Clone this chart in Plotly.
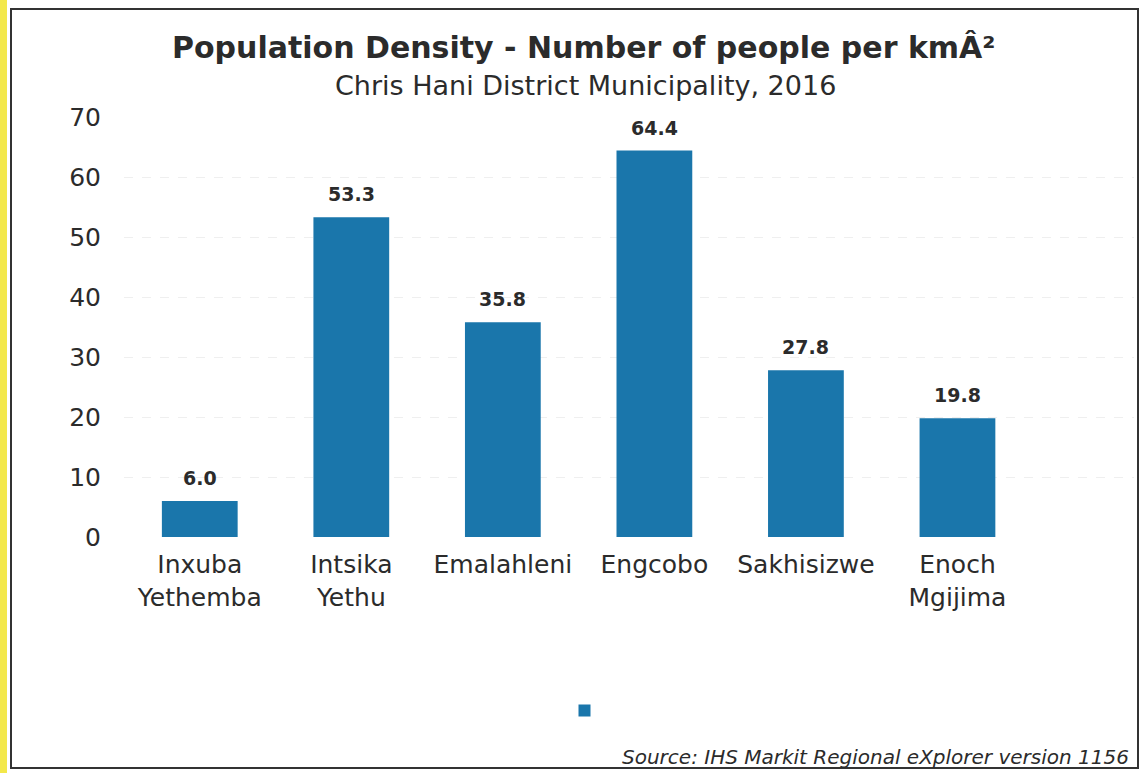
import plotly.graph_objects as go

categories = ["Inxuba<br>Yethemba", "Intsika<br>Yethu", "Emalahleni", "Engcobo", "Sakhisizwe", "Enoch<br>Mgijima"]
values = [6.0, 53.3, 35.8, 64.4, 27.8, 19.8]
y_ticks = [0, 10, 20, 30, 40, 50, 60, 70]

BAR = "#1a76ab"
FONT = "DejaVu Sans"
TXT = "#2b2b2b"

W, H = 1139, 773
L, R, T, B = 124, 5, 117, 236
pw, ph = W - L - R, H - T - B

def px(x):
    return (x - L) / pw

def py(y):
    return (H - B - y) / ph

fig = go.Figure()
fig.add_trace(go.Bar(
    x=list(range(len(categories))), y=values, name="", width=0.5,
    marker=dict(color=BAR, line=dict(width=0)), showlegend=True,
))
for i, v in enumerate(values):
    fig.add_annotation(x=i, y=v, text=f"<b>{v:.1f}</b>", showarrow=False,
                       yanchor="bottom", yshift=10,
                       font=dict(family=FONT, size=19, color=TXT))

fig.update_layout(
    width=W, height=H,
    margin=dict(l=L, r=R, t=T, b=B, autoexpand=False),
    paper_bgcolor="white", plot_bgcolor="white",
    font=dict(family=FONT, color=TXT),
    showlegend=True,
    legend=dict(orientation="h", x=px(587), y=py(711), xanchor="center", yanchor="middle",
                font=dict(size=14), itemwidth=30, bgcolor="rgba(0,0,0,0)"),
    bargap=0.5,
)
fig.update_xaxes(
    tickmode="array", tickvals=list(range(len(categories))), ticktext=categories,
    range=[-0.5, 6.165], showgrid=False, zeroline=False, showline=False, ticks="",
    tickfont=dict(family=FONT, size=25, color=TXT), ticklabelstandoff=10,
)
fig.update_yaxes(
    range=[0, 70], tickvals=y_ticks, showgrid=True, gridcolor="#efefef", griddash="dash",
    gridwidth=1, zeroline=False, showline=False, ticks="",
    tickfont=dict(family=FONT, size=25, color=TXT), ticklabelstandoff=22,
)

fig.add_annotation(xref="paper", yref="paper", x=px(583), y=py(48), xanchor="center", yanchor="middle",
                   text="<b>Population Density - Number of people per kmÂ²</b>", showarrow=False,
                   font=dict(family=FONT, size=30, color=TXT))
fig.add_annotation(xref="paper", yref="paper", x=px(585), y=py(85), xanchor="center", yanchor="middle",
                   text="Chris Hani District Municipality, 2016", showarrow=False,
                   font=dict(family=FONT, size=27, color=TXT))
fig.add_annotation(xref="paper", yref="paper", x=px(1131), y=py(757), xanchor="right", yanchor="middle",
                   text="<i>Source: IHS Markit Regional eXplorer version 1156</i>", showarrow=False,
                   font=dict(family=FONT, size=20, color=TXT))

# yellow strip and frame
fig.add_shape(type="rect", xref="paper", yref="paper", x0=px(0), x1=px(7), y0=py(H), y1=py(0),
              fillcolor="#f3e84a", line=dict(width=0), layer="above")
fig.add_shape(type="rect", xref="paper", yref="paper", x0=px(11), x1=px(1138), y0=py(768), y1=py(9),
              fillcolor="rgba(0,0,0,0)", line=dict(color="#333333", width=2), layer="above")

fig.write_html("out.html", config={"displayModeBar": False},
               post_script="document.body.style.margin='0';document.body.style.overflow='hidden';")
